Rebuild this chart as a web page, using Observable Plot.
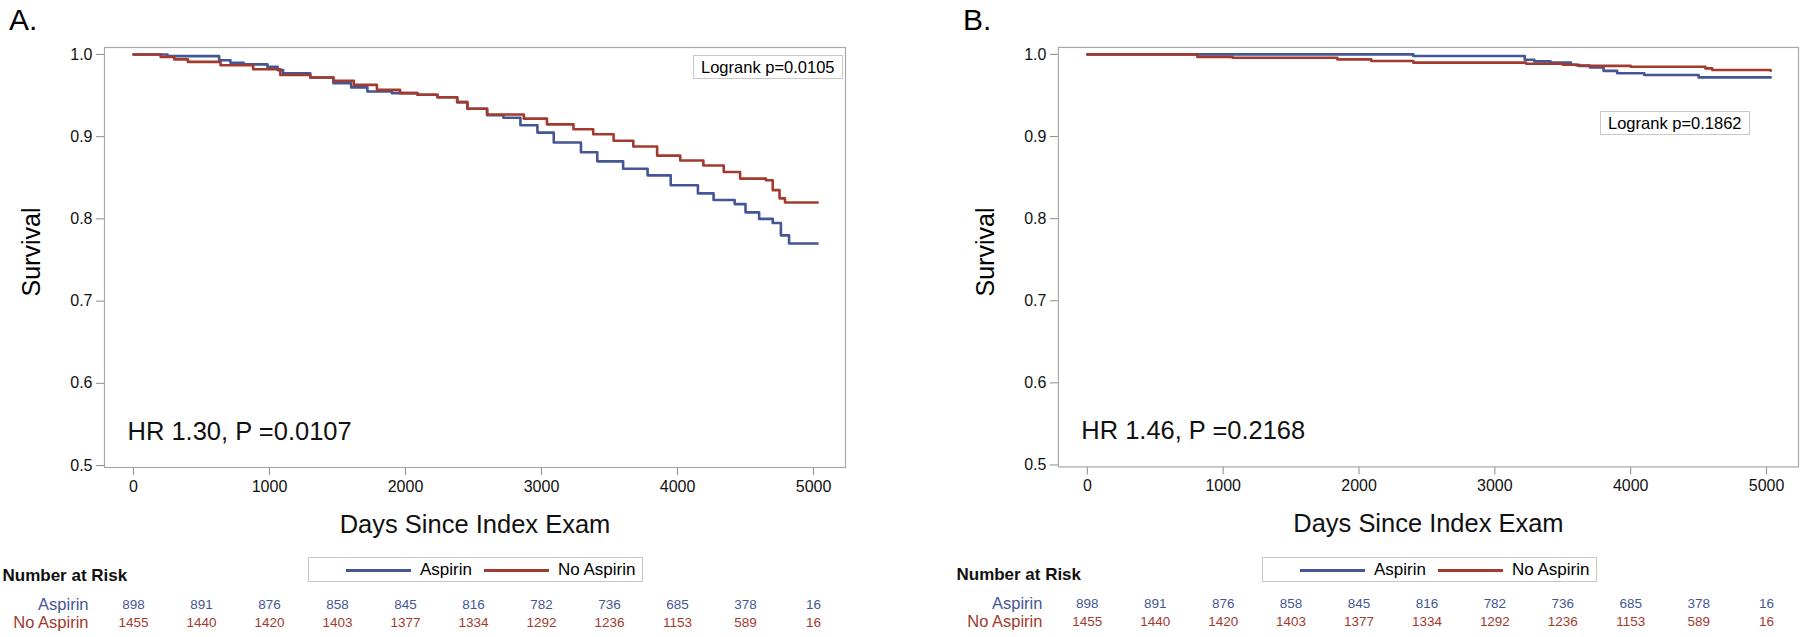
<!DOCTYPE html>
<html>
<head>
<meta charset="utf-8">
<script src="https://cdn.jsdelivr.net/npm/d3@7"></script>
<script src="https://cdn.jsdelivr.net/npm/@observablehq/plot@0.6"></script>
<style>
  html, body { margin: 0; padding: 0; background: #fff; }
  body { width: 1800px; height: 637px; position: relative; overflow: hidden; font-family: "Liberation Sans", Arial, sans-serif; }
  .panel { position: absolute; top: 0; }
  .letter { position: absolute; font-size: 30px; color: #000; line-height: 1; }
  .logrank { position: absolute; border: 1px solid #c8c8c8; background: #fff; font-size: 16.5px; height: 22px; line-height: 22px; padding: 0 7px; color: #000; white-space: nowrap; }
  .legend { position: absolute; border: 1px solid #c8c8c8; background: #fff; height: 23px; width: 333px; font-size: 17px; color: #000; }
  .legend .sw { position: absolute; top: 11px; height: 2.5px; width: 65px; }
  .legend .lab { position: absolute; top: 0; line-height: 23px; white-space: nowrap; }
  .ylab { position: absolute; font-size: 25px; transform: rotate(-90deg); transform-origin: center center; white-space: nowrap; }
</style>
</head>
<body>
<div id="root"></div>
<script>
// ---------- data ----------
const xTicks = [0, 1000, 2000, 3000, 4000, 5000];
const yTicks = [0.5, 0.6, 0.7, 0.8, 0.9, 1.0];
const groups = ["Aspirin", "No Aspirin"];
const groupColors = ["#445694", "#A23A2E"];

// Panel A – Kaplan-Meier step points (day, survival)
const aAspirinDays = [0, 250, 630, 713, 810, 985, 1060, 1100, 1300, 1470, 1600, 1720, 1900, 2088, 2235, 2380, 2455, 2600, 2720, 2845, 2970, 3090, 3290, 3410, 3600, 3780, 3950, 4150, 4265, 4420, 4500, 4600, 4700, 4760, 4820, 5030];
const aAspirinSurv = [1.0, 0.998, 0.993, 0.990, 0.988, 0.985, 0.981, 0.977, 0.972, 0.965, 0.960, 0.955, 0.953, 0.951, 0.948, 0.942, 0.934, 0.926, 0.923, 0.914, 0.905, 0.893, 0.881, 0.870, 0.861, 0.853, 0.841, 0.831, 0.823, 0.818, 0.808, 0.800, 0.795, 0.780, 0.770, 0.770];
const aNoAspirinDays = [0, 200, 300, 400, 640, 880, 1080, 1300, 1470, 1620, 1790, 1960, 2088, 2235, 2380, 2455, 2600, 2870, 3040, 3235, 3380, 3530, 3675, 3850, 4020, 4190, 4340, 4460, 4650, 4700, 4750, 4790, 5030];
const aNoAspirinSurv = [1.0, 0.997, 0.994, 0.991, 0.987, 0.982, 0.975, 0.972, 0.968, 0.963, 0.957, 0.953, 0.951, 0.948, 0.942, 0.934, 0.927, 0.922, 0.915, 0.909, 0.903, 0.895, 0.888, 0.877, 0.871, 0.865, 0.857, 0.849, 0.847, 0.835, 0.825, 0.820, 0.820];

// Panel B
const bAspirinDays = [0, 2400, 3220, 3290, 3410, 3560, 3620, 3700, 3800, 3900, 4100, 4500, 5030];
const bAspirinSurv = [1.0, 0.998, 0.9935, 0.9915, 0.990, 0.9875, 0.986, 0.984, 0.980, 0.977, 0.975, 0.972, 0.972];
const bNoAspirinDays = [0, 810, 1070, 1840, 2090, 2400, 3230, 3500, 3600, 3700, 4000, 4550, 4600, 5030];
const bNoAspirinSurv = [1.0, 0.997, 0.996, 0.994, 0.992, 0.990, 0.9887, 0.9875, 0.9865, 0.986, 0.985, 0.983, 0.981, 0.980];

// Number at risk
const riskDays = [0, 500, 1000, 1500, 2000, 2500, 3000, 3500, 4000, 4500, 5000];
const riskAspirin = [898, 891, 876, 858, 845, 816, 782, 736, 685, 378, 16];
const riskNoAspirin = [1455, 1440, 1420, 1403, 1377, 1334, 1292, 1236, 1153, 589, 16];

const panels = [
  {letter: "A.", hr: "HR 1.30, P =0.0107", logrank: "Logrank p=0.0105",
   asp: [aAspirinDays, aAspirinSurv], noasp: [aNoAspirinDays, aNoAspirinSurv]},
  {letter: "B.", hr: "HR 1.46, P =0.2168", logrank: "Logrank p=0.1862",
   asp: [bAspirinDays, bAspirinSurv], noasp: [bNoAspirinDays, bNoAspirinSurv]}
];

// ---------- layout ----------
const W = 847, H = 637, ML = 104, MR = 2, MT = 47, MB = 170;
const panelOffset = 954;
const logrankPos = [{left: 693, top: 55}, {left: 1600 - 954, top: 111}];

const root = document.getElementById("root");
const font = '"Liberation Sans", Arial, sans-serif';

panels.forEach((p, k) => {
  const curve = [];
  [p.asp, p.noasp].forEach(([days, surv], g) => {
    days.forEach((d, i) => curve.push({day: d, surv: surv[i], group: groups[g]}));
  });
  const riskA = riskDays.map((d, i) => ({day: d, n: String(riskAspirin[i])}));
  const riskN = riskDays.map((d, i) => ({day: d, n: String(riskNoAspirin[i])}));

  const div = document.createElement("div");
  div.className = "panel";
  div.style.left = (k * panelOffset) + "px";
  root.appendChild(div);

  const chart = Plot.plot({
    width: W, height: H,
    marginLeft: ML, marginRight: MR, marginTop: MT, marginBottom: MB,
    style: {fontFamily: font, fontSize: "16px", color: "#000", background: "transparent", overflow: "visible"},
    x: {domain: [-213, 5235]},
    y: {domain: [0.4976, 1.0085]},
    color: {domain: groups, range: groupColors},
    marks: [
      Plot.axisX({ticks: xTicks, tickSize: 8, tickPadding: 5, stroke: "#8c8c8c", fill: "#111", fontSize: 16, label: null, tickFormat: d3.format("d")}),
      Plot.axisY({ticks: yTicks, tickSize: 8, tickPadding: 4, stroke: "#8c8c8c", fill: "#111", fontSize: 16, label: null, tickFormat: d3.format(".1f")}),
      Plot.frame({stroke: "#a8a8a8", strokeWidth: 1.2}),
      Plot.line(curve, {x: "day", y: "surv", z: "group", stroke: "group", curve: "step-after", strokeWidth: 2.6}),
      Plot.text([p.hr], {frameAnchor: "bottom-left", dx: 23, dy: -28, lineAnchor: "bottom", textAnchor: "start", fontSize: 25.5, fill: "#111"}),
      Plot.text(["Days Since Index Exam"], {frameAnchor: "bottom", dy: 57, lineAnchor: "middle", fontSize: 25.5, fill: "#111"}),
      Plot.text(["Number at Risk"], {frameAnchor: "bottom-left", dx: -102, dy: 108, textAnchor: "start", lineAnchor: "middle", fontSize: 17, fontWeight: "bold", fill: "#111"}),
      Plot.text([groups[0]], {frameAnchor: "bottom-left", dx: -16, dy: 137, textAnchor: "end", lineAnchor: "middle", fontSize: 16.5, fill: groupColors[0]}),
      Plot.text([groups[1]], {frameAnchor: "bottom-left", dx: -16, dy: 155, textAnchor: "end", lineAnchor: "middle", fontSize: 16.5, fill: groupColors[1]}),
      Plot.text(riskA, {x: "day", frameAnchor: "bottom", text: "n", fill: groupColors[0], fontSize: 13.5, lineAnchor: "middle", dy: 137}),
      Plot.text(riskN, {x: "day", frameAnchor: "bottom", text: "n", fill: groupColors[1], fontSize: 13.5, lineAnchor: "middle", dy: 155})
    ]
  });
  div.appendChild(chart);

  // Panel letter
  const L = document.createElement("div");
  L.className = "letter";
  L.textContent = p.letter;
  L.style.left = (k * panelOffset + 9) + "px";
  L.style.top = "5px";
  root.appendChild(L);

  // Y label
  const Y = document.createElement("div");
  Y.className = "ylab";
  Y.textContent = "Survival";
  Y.style.width = "120px";
  Y.style.textAlign = "center";
  Y.style.left = (k * panelOffset + 31 - 60) + "px";
  Y.style.top = (252 - 15) + "px";
  Y.style.lineHeight = "30px";
  root.appendChild(Y);

  // Logrank box
  const B = document.createElement("div");
  B.className = "logrank";
  B.textContent = p.logrank;
  B.style.left = (k * panelOffset + logrankPos[k].left) + "px";
  B.style.top = logrankPos[k].top + "px";
  root.appendChild(B);

  // Legend
  const G = document.createElement("div");
  G.className = "legend";
  G.style.left = (k * panelOffset + 308) + "px";
  G.style.top = "557px";
  const items = [
    {sw: 37, lab: 111, text: groups[0], color: groupColors[0]},
    {sw: 175, lab: 249, text: groups[1], color: groupColors[1]}
  ];
  items.forEach(it => {
    const s = document.createElement("div");
    s.className = "sw"; s.style.left = it.sw + "px"; s.style.background = it.color;
    G.appendChild(s);
    const t = document.createElement("div");
    t.className = "lab"; t.style.left = it.lab + "px"; t.textContent = it.text;
    G.appendChild(t);
  });
  root.appendChild(G);
});
</script>
</body>
</html>
